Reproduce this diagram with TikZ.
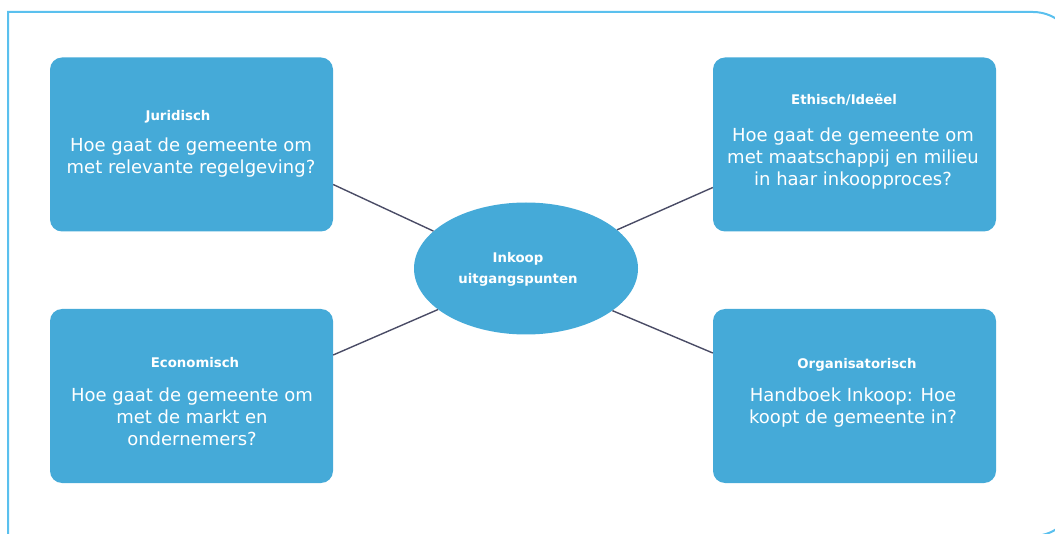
\documentclass[tikz,border=0pt]{standalone}
\usepackage{fontspec}
\setmainfont{DejaVu Sans}
\usetikzlibrary{shapes.geometric}
\definecolor{boxblue}{RGB}{69,170,216}
\definecolor{framebl}{RGB}{90,192,238}
\definecolor{linecol}{RGB}{74,76,102}
\tikzset{
  box/.style={draw=none,fill=boxblue,rounded corners=12pt,minimum width=283pt,minimum height=174pt,inner sep=0pt},
  ell/.style={ellipse,fill=boxblue,minimum width=224pt,minimum height=132pt,inner sep=0pt},
  ttl/.style={anchor=base,inner sep=0pt,text=white,font=\fontsize{13.3}{21}\selectfont\bfseries},
  body/.style={anchor=base,inner sep=0pt,text=white,font=\fontsize{18}{21.7}\selectfont},
  conn/.style={draw=linecol,line width=1.4pt},
  frame/.style={draw=framebl,line width=2pt}
}
\newcommand{\lns}[1]{\begin{tabular}[t]{@{}c@{}}#1\end{tabular}}
\begin{document}
\begin{tikzpicture}[x=1pt,y=1pt]
\useasboundingbox (0,0) rectangle (1055,-534);
\begin{scope}
\clip (0,0) rectangle (1055,-534);
\draw[frame] (8,-540) -- (8,-12) -- (1033,-12) arc[start angle=90,end angle=0,radius=43] -- (1076,-493) arc[start angle=0,end angle=-90,radius=43] -- (8,-536);
\end{scope}
% boxes
\node[box] (jur) at (191.5,-144.5) {};
\node[box] (eth) at (854.5,-144.5) {};
\node[box] (eco) at (191.5,-396) {};
\node[box] (org) at (854.5,-396) {};
\node[ell] (ell) at (526,-268.5) {};
% connectors
\draw[conn] ([yshift=-40pt]jur.east) -- (ell.158);
\draw[conn] ([yshift=-43pt]eth.west) -- (ell.23);
\draw[conn] ([yshift=41pt]eco.east) -- (ell.205);
\draw[conn] ([yshift=43pt]org.west) -- (ell.334);
% texts
\node[ttl] (jurt) at (178,-121) {Juridisch};
\node[body] (jurb) at (191,-152) {\lns{Hoe gaat de gemeente om\\met relevante regelgeving?}};
\node[ttl] (etht) at (844,-105) {Ethisch/Ideëel};
\node[body] (ethb) at (853,-142) {\lns{Hoe gaat de gemeente om\\met maatschappij en milieu\\in haar inkoopproces?}};
\node[ttl] (ecot) at (195,-368) {Economisch};
\node[body] (ecob) at (192,-402) {\lns{Hoe gaat de gemeente om\\met de markt en\\ondernemers?}};
\node[ttl] (orgt) at (857,-369) {Organisatorisch};
\node[body] (orgb) at (853,-402) {\lns{Handboek Inkoop: Hoe\\koopt de gemeente in?}};
\node[ttl] (ellt) at (518,-263) {\lns{Inkoop\\uitgangspunten}};
\end{tikzpicture}
\end{document}
